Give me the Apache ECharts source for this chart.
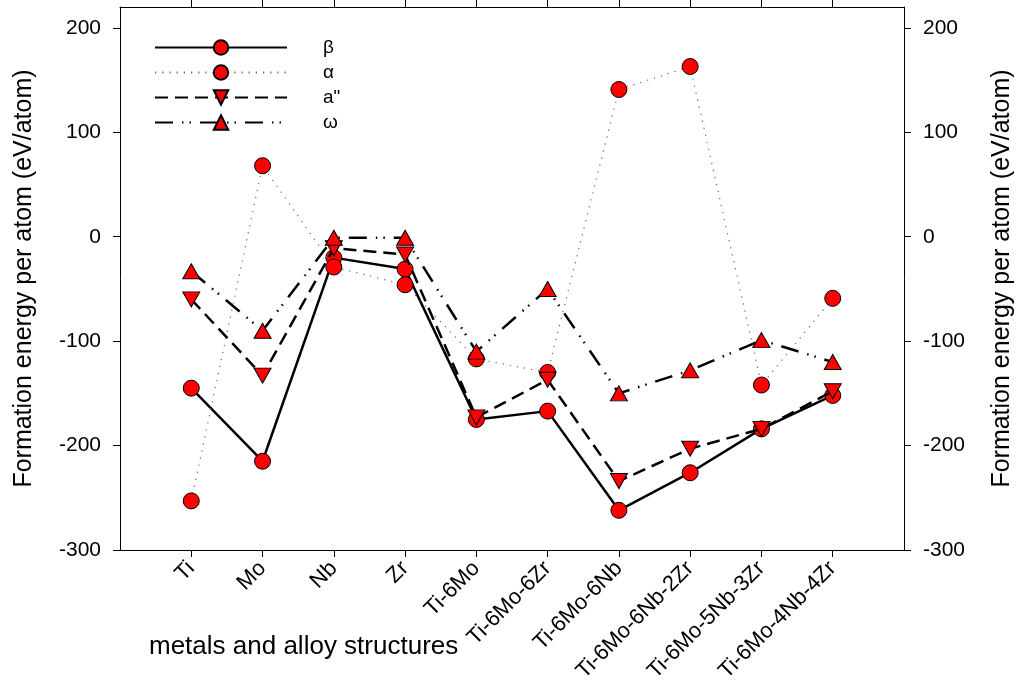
<!DOCTYPE html>
<html><head><meta charset="utf-8">
<script src="https://cdn.jsdelivr.net/npm/echarts@6/dist/echarts.min.js"></script>
<style>html,body{margin:0;padding:0;background:#fff}#c{width:1027px;height:689px}</style>
</head><body><div id="c"></div>
<script>
const categories = ['Ti','Mo','Nb','Zr','Ti-6Mo','Ti-6Mo-6Zr','Ti-6Mo-6Nb','Ti-6Mo-6Nb-2Zr','Ti-6Mo-5Nb-3Zr','Ti-6Mo-4Nb-4Zr'];
const betaVals  = [-145, -215, -20, -31, -175, -167, -262, -226, -184, -152];
const alphaVals = [-253,   68, -29, -46, -117, -130,  141,  163, -142,  -59];
const a2Vals    = [ -60, -133, -11, -17, -173, -137, -234, -203, -184, -148];
const omegaVals = [ -33,  -90,  -1,  -1, -110,  -50, -150, -128,  -99, -120];
const yTicks = [-300, -200, -100, 0, 100, 200];
const xTicks = [1,2,3,4,5,6,7,8,9,10];
const yTitle = 'Formation energy per atom (eV/atom)';
const xTitle = 'metals and alloy structures';

const FONT = '"Liberation Sans", Arial, sans-serif';
const toPts = arr => arr.map((v, i) => [xTicks[i], v]);
const marker = {color: '#ff0000', borderColor: '#000', borderWidth: 1};

const chart = echarts.init(document.getElementById('c'), null, {renderer: 'canvas'});
const axisCommon = {
  type: 'value', splitLine: {show: false},
  axisLine: {show: true, onZero: false, lineStyle: {color: '#000', width: 1}},
};
chart.setOption({
  animation: false,
  backgroundColor: '#fff',
  textStyle: {fontFamily: FONT},
  title: {text: xTitle, left: 144, top: 629,
    textStyle: {fontFamily: FONT, fontSize: 26, fontWeight: 'normal', color: '#000'}},
  grid: {left: 120, right: 123, top: 7, bottom: 139, containLabel: false, outerBoundsMode: 'none'},
  legend: {
    orient: 'vertical', left: 149, top: 33, itemWidth: 132, itemHeight: 18, itemGap: 6,
    textStyle: {fontFamily: FONT, fontSize: 19, lineHeight: 18, color: '#000', padding: [0,0,0,31]},
    data: ['β','α','a"','ω']
  },
  xAxis: [
    Object.assign({}, axisCommon, {min: 0, max: 11, position: 'bottom',
      axisTick: {show: true, customValues: xTicks, length: 7, inside: false, lineStyle: {color: '#000'}},
      axisLabel: {show: true, customValues: xTicks, rotate: 45, fontSize: 22, color: '#000', margin: 15,
        formatter: v => categories[Math.round(v) - 1] || ''}}),
    Object.assign({}, axisCommon, {min: 0, max: 11, position: 'top',
      axisTick: {show: true, customValues: xTicks, length: 8, inside: false, lineStyle: {color: '#000'}},
      axisLabel: {show: false}})
  ],
  yAxis: [
    Object.assign({}, axisCommon, {min: -300, max: 220, position: 'left',
      name: yTitle, nameLocation: 'middle', nameRotate: 90, nameGap: 83,
      nameTextStyle: {fontFamily: FONT, fontSize: 25, color: '#000'},
      axisTick: {show: true, customValues: yTicks, length: 7, lineStyle: {color: '#000'}},
      axisLabel: {show: true, customValues: yTicks, fontSize: 21, color: '#000', margin: 19}}),
    Object.assign({}, axisCommon, {min: -300, max: 220, position: 'right',
      name: yTitle, nameLocation: 'middle', nameRotate: 90, nameGap: 86,
      nameTextStyle: {fontFamily: FONT, fontSize: 25, color: '#000'},
      axisTick: {show: true, customValues: yTicks, length: 7, lineStyle: {color: '#000'}},
      axisLabel: {show: true, customValues: yTicks, fontSize: 21, color: '#000', margin: 19}})
  ],
  series: [
    {name: 'β', type: 'line', data: toPts(betaVals), symbol: 'circle', symbolSize: 16,
      lineStyle: {color: '#000', width: 2.5, type: 'solid'}, itemStyle: marker, z: 2},
    {name: 'α', type: 'line', data: toPts(alphaVals), symbol: 'circle', symbolSize: 16,
      lineStyle: {color: '#666', width: 1.2, type: [1.2, 6]}, itemStyle: marker, z: 3},
    {name: 'a"', type: 'line', data: toPts(a2Vals), symbol: 'triangle', symbolRotate: 180, symbolSize: [17, 15],
      lineStyle: {color: '#000', width: 2.5, type: [13, 7]}, itemStyle: marker, z: 4},
    {name: 'ω', type: 'line', data: toPts(omegaVals), symbol: 'triangle', symbolSize: [17, 15],
      lineStyle: {color: '#000', width: 2.5, type: [18, 9, 1.5, 6, 1.5, 9]}, itemStyle: marker, z: 5}
  ]
});
</script></body></html>
